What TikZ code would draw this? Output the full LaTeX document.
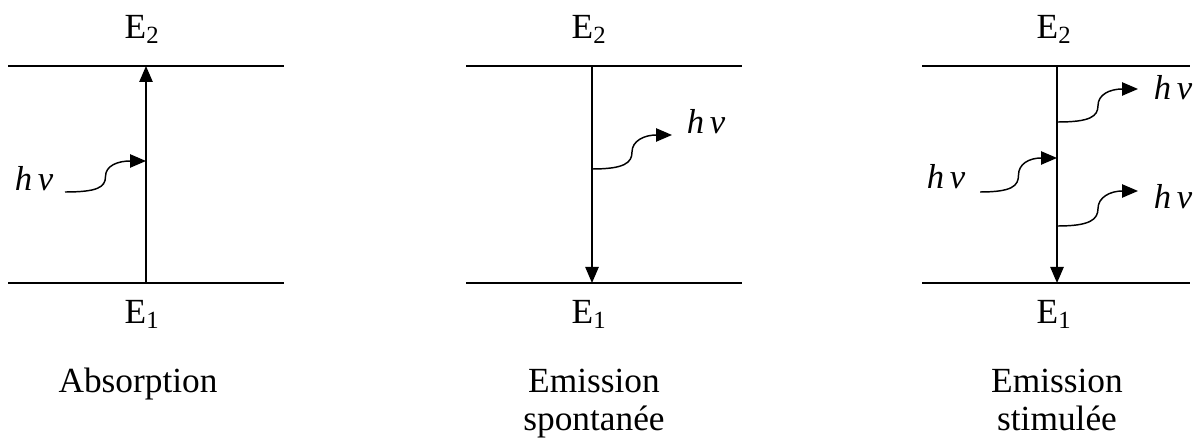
\documentclass[tikz,border=0pt]{standalone}
\usepackage{fontspec}
\setmainfont{Liberation Serif}
\usetikzlibrary{arrows.meta,calc}

\begin{document}
\begin{tikzpicture}[x=0.75pt,y=0.75pt,>={Triangle[length=12pt,width=10pt]},
  niveau/.style={line width=1.1pt},
  photon/.style={line width=1.1pt,->},
  lab/.style={font=\fontsize{26.5}{30}\selectfont,inner sep=0pt,anchor=base},
  hnu/.style={font=\fontsize{26}{30}\selectfont\itshape,inner sep=0pt}]
  \useasboundingbox (0,0) rectangle (1198,441);
  % absorption
  \coordinate (hautA1) at (8,375);   \coordinate (hautA2) at (284,375);
  \coordinate (basA1) at (8,158);    \coordinate (basA2) at (284,158);
  \coordinate (topA) at (146,375);   \coordinate (botA) at (146,158);
  \draw[niveau] (hautA1) -- (hautA2);
  \draw[niveau] (basA1) -- (basA2);
  \draw[niveau,->] (botA) -- (topA);
  \node[lab] (e2A) at (142,402) {E\textsubscript{2}};
  \node[lab] (e1A) at (142,117) {E\textsubscript{1}};
  \node[lab] (nomA) at (138,48) {Absorption};
  \node[hnu] (nuA) at (34,262) {h\,ν};
  \coordinate (pA1) at (65,249);     \coordinate (pA2) at (146,280);
  \draw[photon] (pA1) .. controls +(32,0) and +(0,-11) .. ($(pA1)!.5!(pA2)$)
    .. controls +(0,11) and +(-28,0) .. (pA2);
  % emission spontanee
  \coordinate (hautB1) at (466,375); \coordinate (hautB2) at (742,375);
  \coordinate (basB1) at (466,158);  \coordinate (basB2) at (742,158);
  \coordinate (topB) at (592,375);   \coordinate (botB) at (592,158);
  \draw[niveau] (hautB1) -- (hautB2);
  \draw[niveau] (basB1) -- (basB2);
  \draw[niveau,->] (topB) -- (botB);
  \node[lab] (e2B) at (589,402) {E\textsubscript{2}};
  \node[lab] (e1B) at (589,117) {E\textsubscript{1}};
  \node[lab] (nomB) at (594,48) {Emission};
  \node[lab] (nomB2) at (594,10) {spontanée};
  \node[hnu] (nuB) at (706,319) {h\,ν};
  \coordinate (pB1) at (592,272);    \coordinate (pB2) at (672,306);
  \draw[photon] (pB1) .. controls +(32,0) and +(0,-11) .. ($(pB1)!.5!(pB2)$)
    .. controls +(0,11) and +(-28,0) .. (pB2);
  % emission stimulee
  \coordinate (hautC1) at (922,375); \coordinate (hautC2) at (1190,375);
  \coordinate (basC1) at (922,158);  \coordinate (basC2) at (1190,158);
  \coordinate (topC) at (1057,375);  \coordinate (botC) at (1057,158);
  \draw[niveau] (hautC1) -- (hautC2);
  \draw[niveau] (basC1) -- (basC2);
  \draw[niveau,->] (topC) -- (botC);
  \node[lab] (e2C) at (1054,402) {E\textsubscript{2}};
  \node[lab] (e1C) at (1054,117) {E\textsubscript{1}};
  \node[lab] (nomC) at (1057,48) {Emission};
  \node[lab] (nomC2) at (1057,10) {stimulée};
  \node[hnu] (nuC) at (946,264) {h\,ν};
  \node[hnu] (nuC1) at (1173,353) {h\,ν};
  \node[hnu] (nuC2) at (1173,244) {h\,ν};
  \coordinate (pC1) at (980,249);    \coordinate (pC2) at (1057,283);
  \coordinate (qC1) at (1058,319);   \coordinate (qC2) at (1138,352);
  \coordinate (rC1) at (1058,215);   \coordinate (rC2) at (1138,250);
  \foreach \s/\e in {pC1/pC2,qC1/qC2,rC1/rC2}
    \draw[photon] (\s) .. controls +(32,0) and +(0,-11) .. ($(\s)!.5!(\e)$)
      .. controls +(0,11) and +(-28,0) .. (\e);
\end{tikzpicture}
\end{document}
